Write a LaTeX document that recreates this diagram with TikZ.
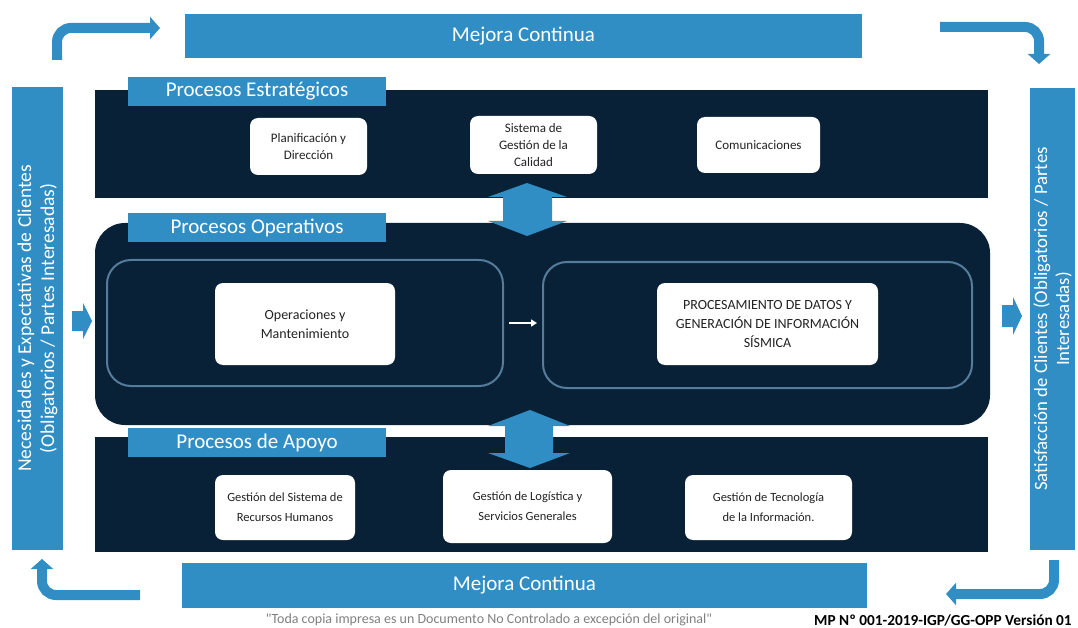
\documentclass[tikz,border=0pt]{standalone}
\usepackage{fontspec}
\setmainfont{Carlito}
\usetikzlibrary{arrows.meta}
\definecolor{mblue}{RGB}{49,142,196}
\definecolor{mdark}{RGB}{8,33,54}
\definecolor{mline}{RGB}{86,124,156}
\definecolor{mtext}{RGB}{35,35,35}
\tikzset{
  bluebar/.style={fill=mblue, text=white, inner sep=0pt, align=center, font=\fontsize{21}{25}\selectfont},
  sidebar/.style={fill=mblue, text=white, inner sep=0pt, rotate=90, align=center},
  band/.style={fill=mdark, inner sep=0pt},
  tabbox/.style={fill=mblue, text=white, inner sep=0pt, minimum width=258pt, minimum height=29pt, font=\fontsize{21}{25}\selectfont},
  inbox/.style={draw=mline, line width=2pt, rounded corners=24pt, inner sep=0pt},
  wbox/.style={fill=white, rounded corners=8pt, inner sep=0pt, align=center, text=mtext, font=\fontsize{13}{17}\selectfont},
  obox/.style={fill=white, rounded corners=8pt, inner sep=0pt, align=center, text=mtext, font=\fontsize{14}{19}\selectfont},
  loop/.style={draw=mblue, line width=10pt, rounded corners=14pt, -{Triangle[length=10pt,width=22pt]}},
}
\begin{document}
\begin{tikzpicture}[x=1pt,y=-1pt]
\useasboundingbox (0,0) rectangle (1078,628);
% Mejora continua bars
\node[bluebar, minimum width=677pt, minimum height=44pt] (mtop) at (523.5,36) {Mejora Continua};
\node[bluebar, minimum width=685pt, minimum height=45pt] (mbot) at (524.5,585.5) {Mejora Continua};
% side bars
\node[sidebar, minimum width=463pt, minimum height=51pt, font=\fontsize{19.5}{23}\selectfont] (left) at (37.5,318.5) {Necesidades y Expectativas de Clientes\\(Obligatorios / Partes Interesadas)};
\node[sidebar, minimum width=462pt, minimum height=45pt, font=\fontsize{18.8}{22}\selectfont] (right) at (1052.5,319) {Satisfacción de Clientes (Obligatorios / Partes\\Interesadas)};
% loop arrows
\coordinate (tlA) at (57,60); \coordinate (tlB) at (160,28);
\coordinate (trA) at (940,27); \coordinate (trB) at (1039,64);
\coordinate (blA) at (140,595); \coordinate (blB) at (42,559);
\coordinate (brA) at (1054,560); \coordinate (brB) at (946,594);
\draw[loop] (tlA) |- (tlB);
\draw[loop] (trA) -| (trB);
\draw[loop] (blA) -| (blB);
\draw[loop] (brA) |- (brB);
% bands
\node[band, minimum width=893pt, minimum height=108pt] (strat) at (541.5,144) {};
\node[band, minimum width=895pt, minimum height=202pt, rounded corners=30pt] (oper) at (542.5,324) {};
\node[band, minimum width=893pt, minimum height=115pt] (apoyo) at (541.5,494.5) {};
% side block arrows
\fill[mblue] (72,311) -- (83,311) -- (83,303) -- (92,321) -- (83,339) -- (83,331) -- (72,331) -- cycle;
\fill[mblue] (1002,305) -- (1013,305) -- (1013,297) -- (1022,316) -- (1013,335) -- (1013,327) -- (1002,327) -- cycle;
% double arrows
\fill[mblue] (527,183) -- (567,197) -- (552,197) -- (552,221) -- (567,221) -- (527,236) -- (488,221) -- (503,221) -- (503,197) -- (488,197) -- cycle;
\fill[mblue] (530,410) -- (570,426) -- (553,426) -- (553,453) -- (570,453) -- (530,468) -- (488,453) -- (505,453) -- (505,426) -- (488,426) -- cycle;
% tabs
\node[tabbox] (tabE) at (257,91.5) {Procesos Estratégicos};
\node[tabbox] (tabO) at (257,227.5) {Procesos Operativos};
\node[tabbox] (tabA) at (257,442.5) {Procesos de Apoyo};
% strategic boxes
\node[wbox, minimum width=117pt, minimum height=57pt] (plan) at (308.5,146.5) {Planificación y\\Dirección};
\node[wbox, minimum width=127pt, minimum height=58pt] (sgc) at (533.5,145) {Sistema de\\Gestión de la\\Calidad};
\node[wbox, minimum width=123pt, minimum height=56pt] (com) at (758.5,145) {Comunicaciones};
% operational
\node[inbox, minimum width=396pt, minimum height=126pt] (inL) at (305,323) {};
\node[inbox, minimum width=429pt, minimum height=126pt] (inR) at (757.5,325) {};
\node[obox, minimum width=180pt, minimum height=82pt] (ops) at (305,324) {Operaciones y\\Mantenimiento};
\node[obox, minimum width=221pt, minimum height=82pt] (proc) at (767.5,324) {PROCESAMIENTO DE DATOS Y\\GENERACIÓN DE INFORMACIÓN\\SÍSMICA};
\draw[white, line width=2pt, -{Triangle[length=6pt,width=7pt]}] ([xshift=5pt]inL.east) -- ([xshift=-5pt]inL.east -| inR.west);
% support boxes
\node[wbox, minimum width=140pt, minimum height=65pt, font=\fontsize{12.5}{20}\selectfont] (rrhh) at (285,507.5) {Gestión del Sistema de\\Recursos Humanos};
\node[wbox, minimum width=169pt, minimum height=73pt, font=\fontsize{12.5}{20}\selectfont] (log) at (527.5,506.5) {Gestión de Logística y\\Servicios Generales};
\node[wbox, minimum width=167pt, minimum height=65pt, font=\fontsize{12.5}{20}\selectfont] (ti) at (768.5,507.5) {Gestión de Tecnología\\de la Información.};
% footer
\node[text=gray, font=\fontsize{14}{16}\selectfont, inner sep=0pt] (foot) at (489,620) {\textquotedbl Toda copia impresa es un Documento No Controlado a excepción del original\textquotedbl};
\node[anchor=west, text=black, font=\bfseries\fontsize{15.3}{17}\selectfont, inner sep=0pt] (code) at (814,620) {MP Nº 001-2019-IGP/GG-OPP Versión 01};
\end{tikzpicture}
\end{document}
